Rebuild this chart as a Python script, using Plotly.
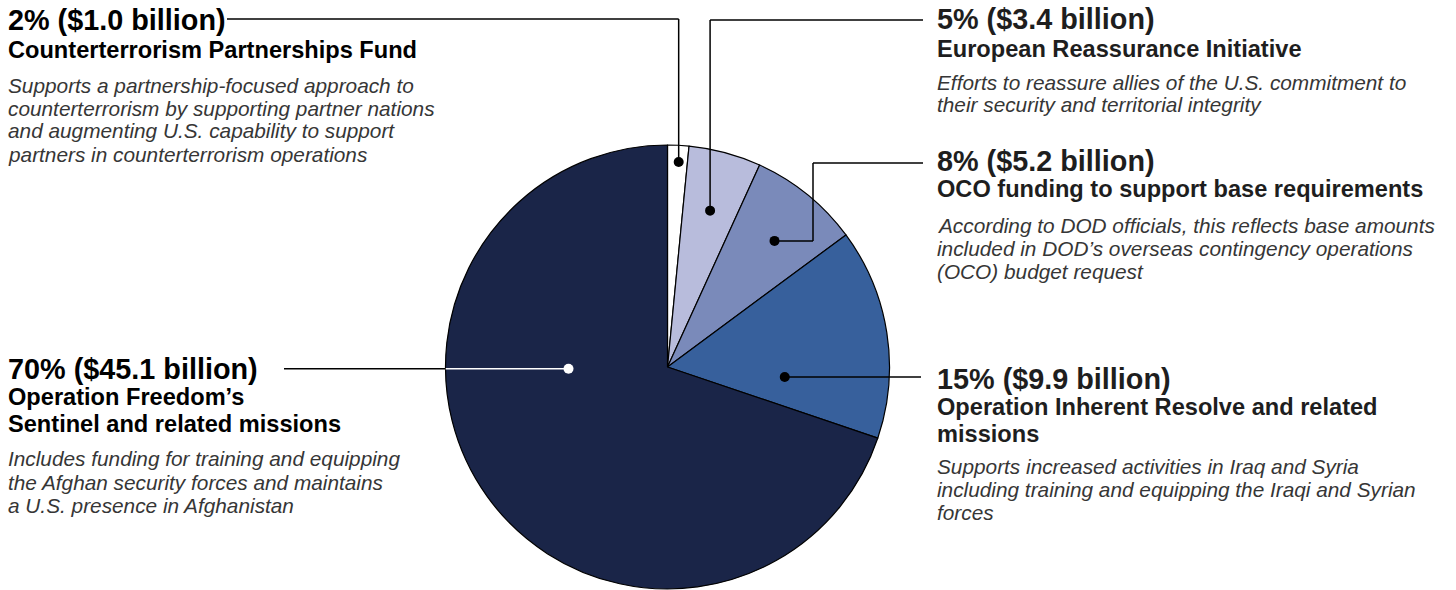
import math
import plotly.graph_objects as go

# ---------------- data ----------------
categories = [
    "Counterterrorism Partnerships Fund",
    "European Reassurance Initiative",
    "OCO funding to support base requirements",
    "Operation Inherent Resolve and related missions",
    "Operation Freedom\u2019s Sentinel and related missions",
]
values = [1.0, 3.4, 5.2, 9.9, 45.1]  # $ billions
title_lines = [
    ["Counterterrorism Partnerships Fund"],
    ["European Reassurance Initiative"],
    ["OCO funding to support base requirements"],
    ["Operation Inherent Resolve and related", "missions"],
    ["Operation Freedom\u2019s", "Sentinel and related missions"],
]
descriptions = [
    ["Supports a partnership-focused approach to",
     "counterterrorism by supporting partner nations",
     "and augmenting U.S. capability to support",
     "partners in counterterrorism operations"],
    ["Efforts to reassure allies of the U.S. commitment to",
     "their security and territorial integrity"],
    ["According to DOD officials, this reflects base amounts",
     "included in DOD\u2019s overseas contingency operations",
     "(OCO) budget request"],
    ["Supports increased activities in Iraq and Syria",
     "including training and equipping the Iraqi and Syrian",
     "forces"],
    ["Includes funding for training and equipping",
     "the Afghan security forces and maintains",
     "a U.S. presence in Afghanistan"],
]
colors = ["#ffffff", "#b8bcdc", "#7a8aba", "#37609c", "#1a2548"]

# ---------------- layout / style ----------------
W, H = 1456, 590
CX, CY, R = 667.5, 367.0, 222.0          # pie centre / radius in pixels
FONT = "Liberation Sans, Arial, Helvetica, sans-serif"

def px(x):
    return x / W

def py(y):
    return 1 - y / H

total = sum(values)
pcts = [round(100 * v / total) for v in values]

fig = go.Figure()
fig.add_trace(go.Pie(
    values=values,
    labels=categories,
    sort=False,
    direction="clockwise",
    rotation=0,
    marker=dict(colors=colors, line=dict(color="#000000", width=1.2)),
    textinfo="none",
    hoverinfo="label+value+percent",
    showlegend=False,
    domain=dict(x=[px(CX - R), px(CX + R)], y=[py(CY + R), py(CY - R)]),
))

# label block layout (pixels): x, header y, title line ys, description ys
blocks = [
    dict(x=6, h=20, t=[50], d=[85, 108, 131, 154]),
    dict(x=935, h=19, t=[49], d=[82, 105]),
    dict(x=935, h=161, t=[189], d=[225, 248, 271]),
    dict(x=935, h=379, t=[407, 434], d=[466, 489, 512]),
    dict(x=6, h=369, t=[397, 424], d=[459, 482, 505]),
]

annotations = []
for i, b in enumerate(blocks):
    head_color = "#000000" if b["x"] < 400 else "#1e1e1e"
    annotations.append(dict(
        x=px(b["x"]), y=py(b["h"]), xref="paper", yref="paper",
        xanchor="left", yanchor="middle", showarrow=False,
        text=f"<b>{pcts[i]}% (${values[i]:.1f} billion)</b>",
        font=dict(family=FONT, size=28.8, color=head_color),
    ))
    for line, yy in zip(title_lines[i], b["t"]):
        annotations.append(dict(
            x=px(b["x"]), y=py(yy), xref="paper", yref="paper",
            xanchor="left", yanchor="middle", showarrow=False,
            text=f"<b>{line}</b>",
            font=dict(family=FONT, size=23.6, color=head_color),
        ))
    for line, yy in zip(descriptions[i], b["d"]):
        annotations.append(dict(
            x=px(b["x"]), y=py(yy), xref="paper", yref="paper",
            xanchor="left", yanchor="middle", showarrow=False,
            text=f"<i>{line}</i>",
            font=dict(family=FONT, size=20.8, color="#363636"),
        ))

# leader dots: position inside each slice (fraction along slice angle, fraction of radius)
dot_frac = [0.56, 0.51, 0.545, 0.75, 0.638]
dot_rad = [0.925, 0.73, 0.745, 0.53, 0.446]
dots = []
cum = 0.0
for i, v in enumerate(values):
    a0 = 360 * cum / total
    a1 = 360 * (cum + v) / total
    cum += v
    a = math.radians(a0 + dot_frac[i] * (a1 - a0))
    r = dot_rad[i] * R
    dots.append((CX + r * math.sin(a), CY - r * math.cos(a)))

shapes = []

def seg(x0, y0, x1, y1, color="#000000", w=1.5):
    shapes.append(dict(type="line", xref="paper", yref="paper",
                       x0=px(x0), y0=py(y0), x1=px(x1), y1=py(y1),
                       line=dict(color=color, width=w), layer="above"))

def dot(x, y, color="#000000", rad=5):
    shapes.append(dict(type="circle", xref="paper", yref="paper",
                       x0=px(x - rad), x1=px(x + rad), y0=py(y + rad), y1=py(y - rad),
                       fillcolor=color, line=dict(color=color, width=0), layer="above"))

# 2% leader
(x, y) = dots[0]
seg(x, y, x, 19); seg(x, 19, 227, 19)
dot(x, y)
# 5% leader
(x, y) = dots[1]
seg(x, y, x, 20); seg(x, 20, 923, 20)
dot(x, y)
# 8% leader
(x, y) = dots[2]
seg(x, y, 813, y); seg(813, y, 813, 163); seg(813, 163, 923, 163)
dot(x, y)
# 15% leader
(x, y) = dots[3]
seg(x, y, 921, y)
dot(x, y)
# 70% leader
(x, y) = dots[4]
seg(x, y, CX - R, y, color="#ffffff")
seg(CX - R, y, 284, y)
dot(x, y, color="#ffffff")

fig.update_layout(
    width=W, height=H,
    margin=dict(l=0, r=0, t=0, b=0),
    paper_bgcolor="#ffffff", plot_bgcolor="#ffffff",
    annotations=annotations,
    shapes=shapes,
    font=dict(family=FONT),
)

fig.write_html("out.html",
               config={"displayModeBar": False},
               post_script="document.body.style.margin='0px';document.body.style.overflow='hidden';")
